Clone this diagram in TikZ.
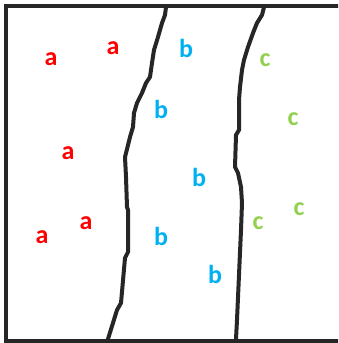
\documentclass[tikz,border=0pt]{standalone}
\usepackage{fontspec}
\setmainfont{Carlito}
\definecolor{ink}{HTML}{262626}
\definecolor{cred}{HTML}{FF0000}
\definecolor{cblue}{HTML}{00B0F0}
\definecolor{cgreen}{HTML}{92D050}
\begin{document}
\begin{tikzpicture}[x=1pt,y=-1pt,
  lineS/.style={draw=ink,line width=4pt,line join=round,line cap=round},
  lbl/.style={font=\fontsize{26}{26}\selectfont\bfseries,anchor=base,inner sep=0pt},
  la/.style={lbl,text=cred},
  lb/.style={lbl,text=cblue},
  lc/.style={lbl,text=cgreen}]
\useasboundingbox (0,0) rectangle (338,343);
\begin{scope}
\clip (0,0) rectangle (338,343);
\draw[draw=ink,line width=4pt] (6,6) rectangle (342,341);
\end{scope}
% left boundary
\draw[lineS] (166,7) -- (165,15) -- (162,23) -- (158,37) -- (154,50) -- (152,63) -- (150,77) -- (146,83) -- (142,93) -- (137,103) -- (134,113) -- (133,127) -- (130,137) -- (125,157) -- (126,177) -- (127,207) -- (128,210) -- (128,252) -- (125,258) -- (121,303) -- (117,310) -- (108,339);
% right boundary
\draw[lineS] (264,7) -- (262,15) -- (257,23) -- (253,33) -- (248,47) -- (244,60) -- (242,70) -- (240,87) -- (239,100) -- (239,130) -- (236,135) -- (235,167) -- (238,173) -- (241,187) -- (242,203) -- (241,230) -- (237,320) -- (236,339);
% labels
\node[la] (a1) at (51,65) {a};
\node[la] (a2) at (113,54) {a};
\node[la] (a3) at (68,159) {a};
\node[la] (a4) at (86,229) {a};
\node[la] (a5) at (42,243) {a};
\node[lb] (b1) at (186,57) {b};
\node[lb] (b2) at (161,118) {b};
\node[lb] (b3) at (199,186) {b};
\node[lb] (b4) at (161,245) {b};
\node[lb] (b5) at (215,283) {b};
\node[lc] (c1) at (265,66) {c};
\node[lc] (c2) at (293,125) {c};
\node[lc] (c3) at (299,215) {c};
\node[lc] (c4) at (258,229) {c};
\end{tikzpicture}
\end{document}
